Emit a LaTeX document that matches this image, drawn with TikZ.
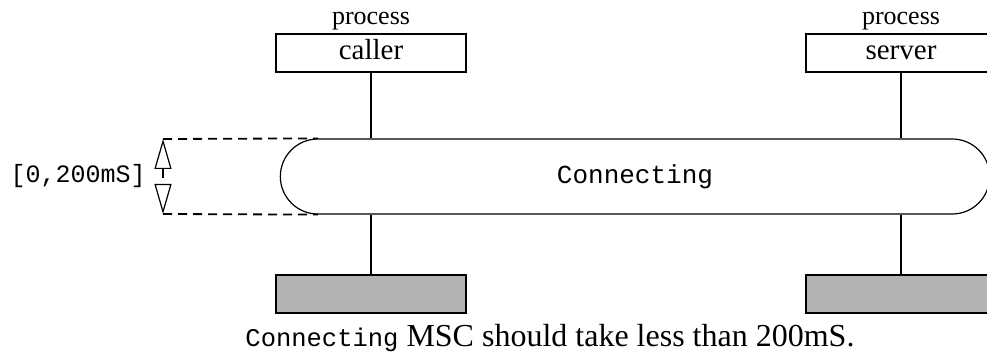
\documentclass[tikz,border=0pt]{standalone}
\usepackage{fontspec}
\setmainfont{Liberation Serif}
\setmonofont{Liberation Mono}
\usetikzlibrary{positioning,shapes.misc,arrows.meta}
\definecolor{MSCGrey}{HTML}{B3B3B3}

\begin{document}
\begin{tikzpicture}[x=1pt,y=-1pt,line width=1.8pt,
    >={Triangle[open,length=30pt,width=17pt,line width=1.2pt]}]
  \tikzstyle{inst}=[draw,minimum width=190pt,minimum height=38pt,inner sep=0pt,
    text height=13pt,text depth=0pt,font=\fontsize{29}{31}\selectfont]
  \tikzstyle{kind}=[anchor=base,font=\fontsize{26}{28}\selectfont]
  \tikzstyle{endbox}=[draw,fill=MSCGrey,minimum width=190pt,minimum height=38pt]
  \tikzstyle{life}=[line width=1.8pt]
  \tikzstyle{dashline}=[line width=1.8pt,dash pattern=on 9pt off 6pt]
  \useasboundingbox (0,0) rectangle (987,358);
  % instances
  \node[inst] (caller) at (371,53) {caller};
  \node[inst] (server) at (901,53) {server};
  \node[kind] (cproc) at (371,25) {process};
  \node[kind] (sproc) at (901,25) {process};
  % inline expression
  \node[draw,rounded rectangle,line width=1.2pt,minimum width=716pt,minimum height=75pt,
    font=\ttfamily\fontsize{26}{28}\selectfont] (expr) at (635,176.5) {Connecting};
  \node[endbox] (cend) at (371,294) {};
  \node[endbox] (send) at (901,294) {};
  \draw[life] (caller.south) -- (caller.south |- expr.north);
  \draw[life] (caller.south |- expr.south) -- (cend.north);
  \draw[life] (server.south) -- (server.south |- expr.north);
  \draw[life] (server.south |- expr.south) -- (send.north);
  % timer
  \coordinate (ttop) at (163,139);
  \coordinate (tbot) at (163,214);
  \draw[dashline] (ttop) -- (expr.north west);
  \draw[dashline] (tbot) -- (expr.south west);
  \draw[dashline,<->] (ttop) -- (tbot);
  \node[anchor=east,font=\ttfamily\fontsize{25}{27}\selectfont] (tlabel) at (150,176.5) {[0,200mS]};
  % caption
  \node[anchor=base,font=\fontsize{32}{34}\selectfont] (note) at (550,346)
    {{\ttfamily\fontsize{25.5}{28}\selectfont Connecting} MSC should take less than 200mS.};
\end{tikzpicture}
\end{document}
